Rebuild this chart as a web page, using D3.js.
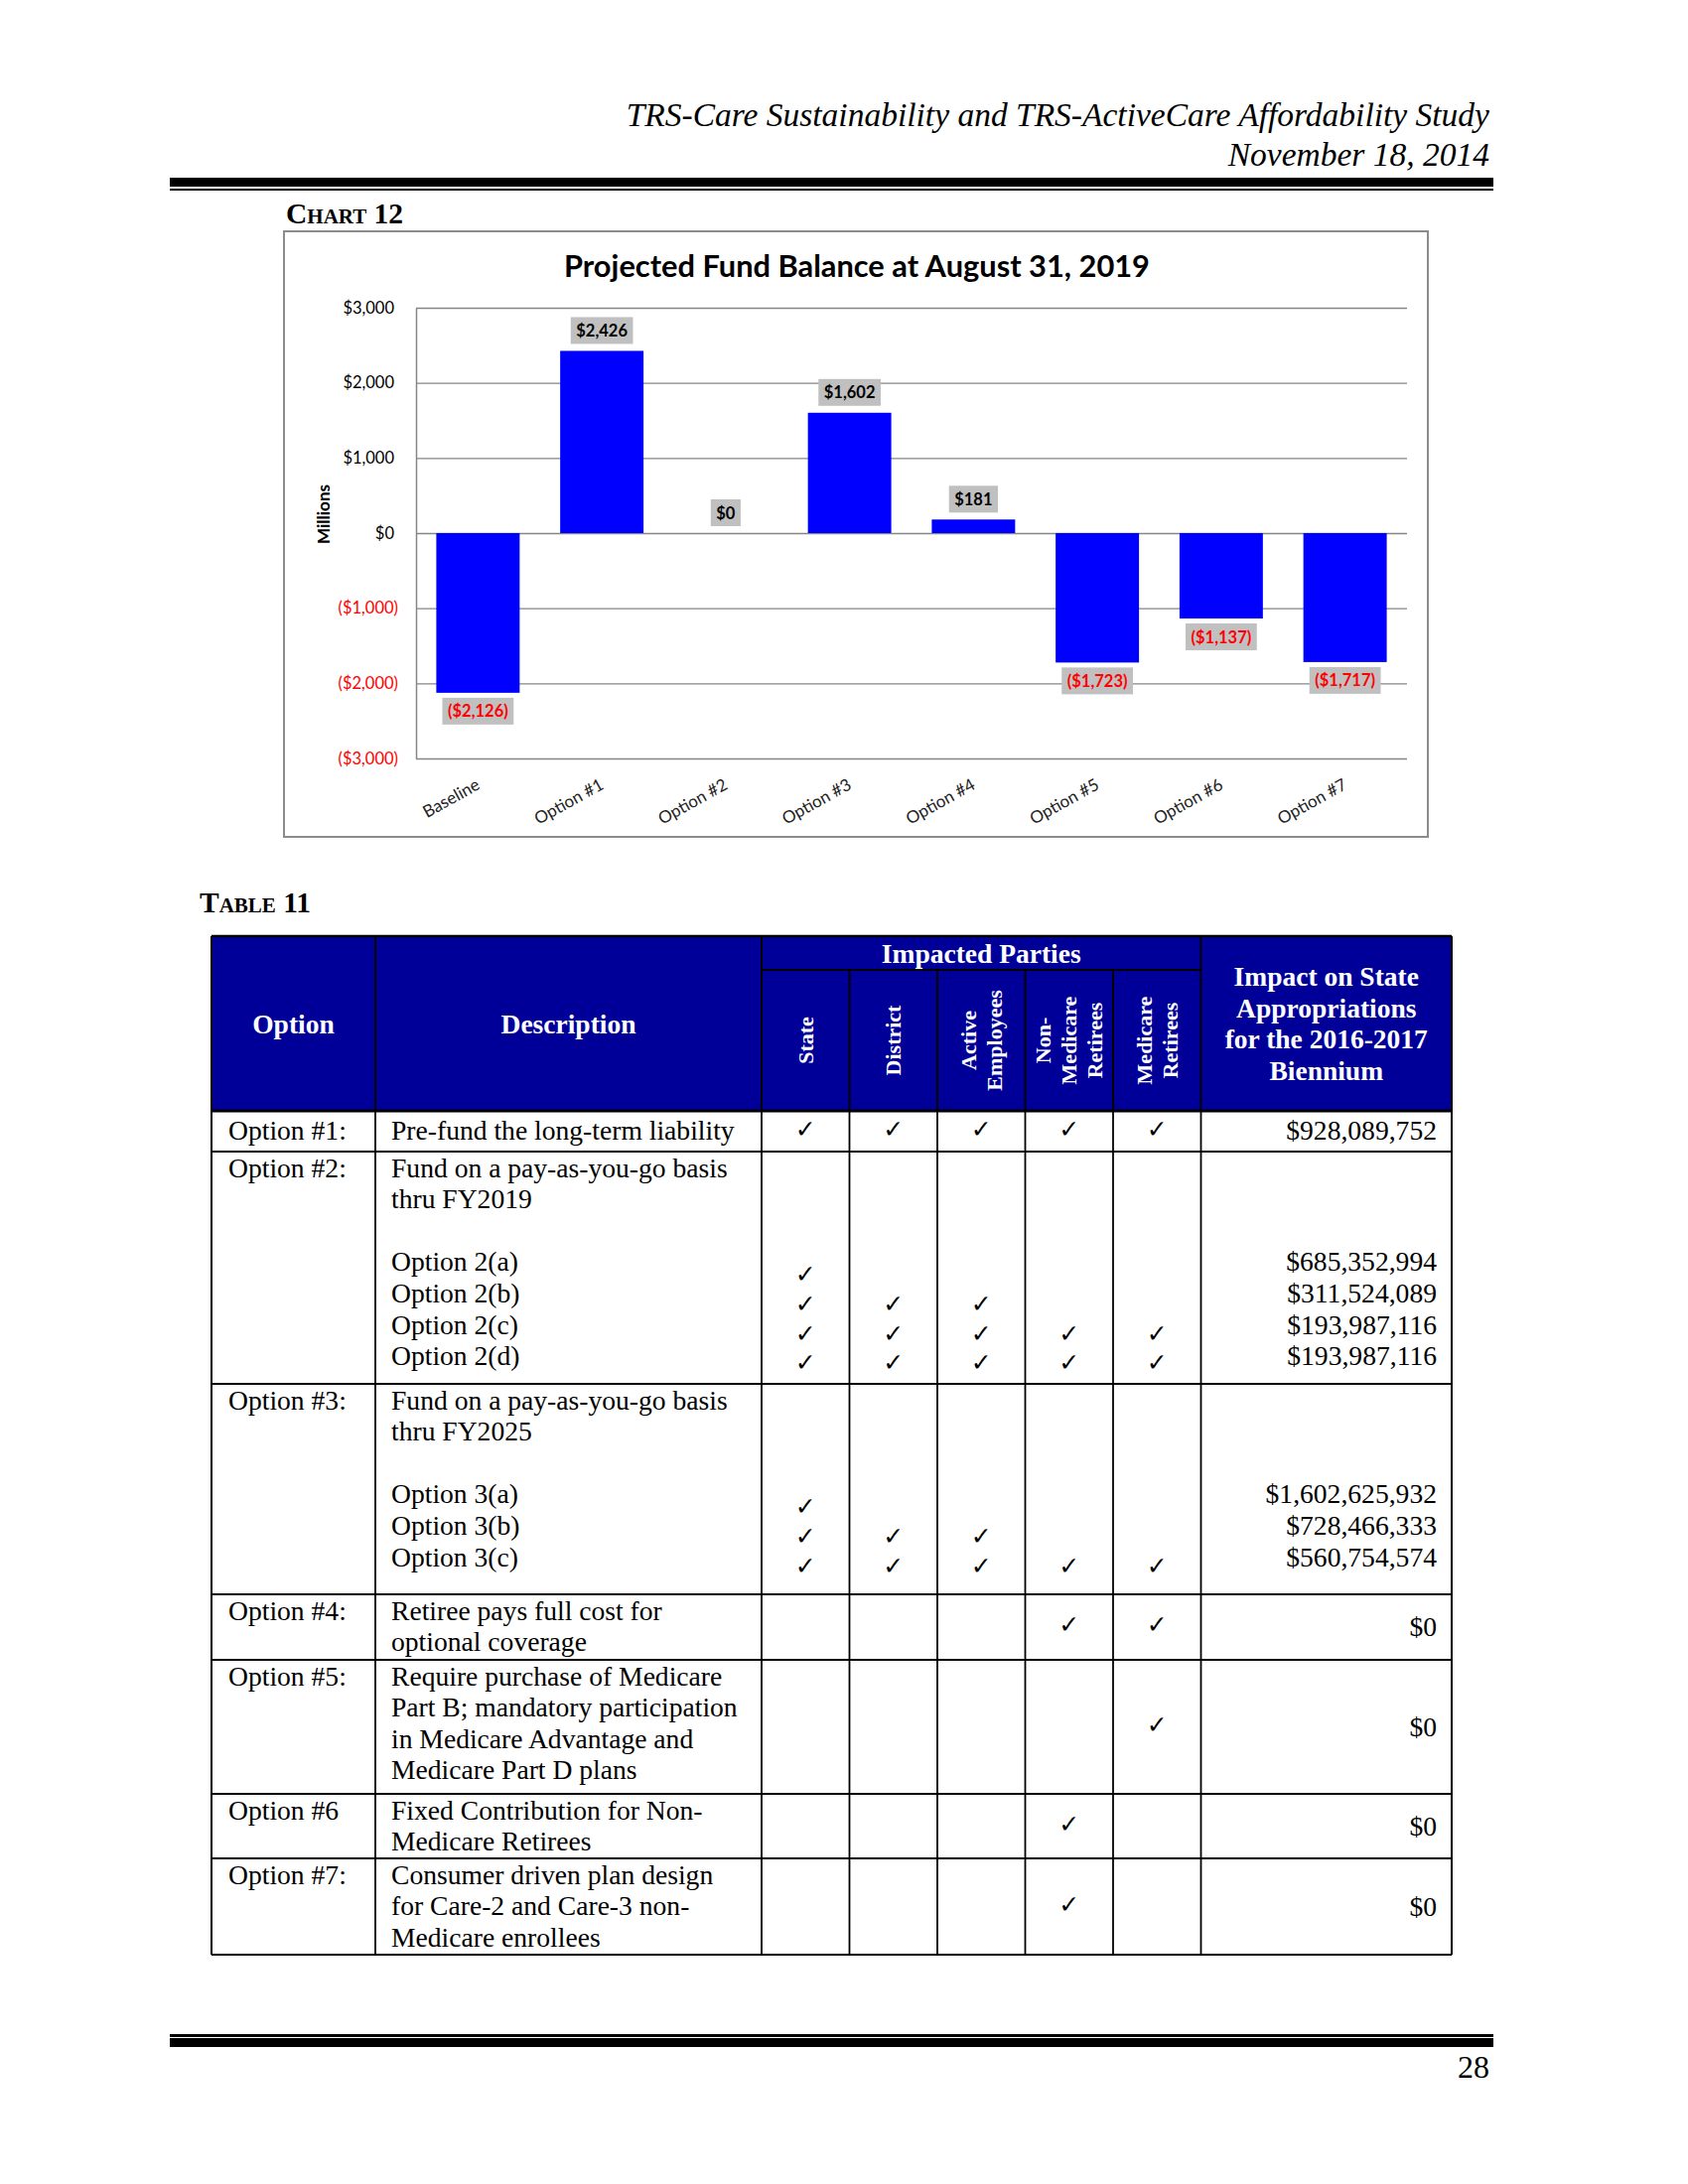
<!DOCTYPE html>
<html>
<head>
<meta charset="utf-8">
<script src="https://cdn.jsdelivr.net/npm/d3@7/dist/d3.min.js"></script>
<style>
  html, body { margin: 0; padding: 0; background: #fff; }
  svg { display: block; }
</style>
</head>
<body>
<div id="page"></div>
<script>
// ---------------- DATA ----------------
const docTitle = "TRS-Care Sustainability and TRS-ActiveCare Affordability Study";
const docDate = "November 18, 2014";
const pageNumber = "28";
const chartCaption = "Chart 12";
const tableCaption = "Table 11";

const chartTitle = "Projected Fund Balance at August 31, 2019";
const yAxisTitle = "Millions";
const categories = ["Baseline", "Option #1", "Option #2", "Option #3", "Option #4", "Option #5", "Option #6", "Option #7"];
const values = [-2126, 2426, 0, 1602, 181, -1723, -1137, -1717];
const yTicks = [3000, 2000, 1000, 0, -1000, -2000, -3000];

const headerOption = "Option";
const headerDescription = "Description";
const headerImpacted = "Impacted Parties";
const partyHeaders = [["State"], ["District"], ["Active", "Employees"], ["Non-", "Medicare", "Retirees"], ["Medicare", "Retirees"]];
const impactHeader = ["Impact on State", "Appropriations", "for the 2016-2017", "Biennium"];

const optionLabels = ["Option #1:", "Option #2:", "Option #3:", "Option #4:", "Option #5:", "Option #6", "Option #7:"];
const optionDescriptions = [
  ["Pre-fund the long-term liability"],
  ["Fund on a pay-as-you-go basis", "thru FY2019"],
  ["Fund on a pay-as-you-go basis", "thru FY2025"],
  ["Retiree pays full cost for", "optional coverage"],
  ["Require purchase of Medicare", "Part B; mandatory participation", "in Medicare Advantage and", "Medicare Part D plans"],
  ["Fixed Contribution for Non-", "Medicare Retirees"],
  ["Consumer driven plan design", "for Care-2 and Care-3 non-", "Medicare enrollees"]
];
const optionSubLabels = [
  [],
  ["Option 2(a)", "Option 2(b)", "Option 2(c)", "Option 2(d)"],
  ["Option 3(a)", "Option 3(b)", "Option 3(c)"],
  [], [], [], []
];
// checks: State, District, Active Employees, Non-Medicare Retirees, Medicare Retirees
const optionChecks = [
  [[1, 1, 1, 1, 1]],
  [[1, 0, 0, 0, 0], [1, 1, 1, 0, 0], [1, 1, 1, 1, 1], [1, 1, 1, 1, 1]],
  [[1, 0, 0, 0, 0], [1, 1, 1, 0, 0], [1, 1, 1, 1, 1]],
  [[0, 0, 0, 1, 1]],
  [[0, 0, 0, 0, 1]],
  [[0, 0, 0, 1, 0]],
  [[0, 0, 0, 1, 0]]
];
const optionAmounts = [
  ["$928,089,752"],
  ["$685,352,994", "$311,524,089", "$193,987,116", "$193,987,116"],
  ["$1,602,625,932", "$728,466,333", "$560,754,574"],
  ["$0"], ["$0"], ["$0"], ["$0"]
];

// ---------------- LAYOUT ----------------
const W = 1700, H = 2200;
const svg = d3.select("#page").append("svg").attr("width", W).attr("height", H);
svg.append("rect").attr("width", W).attr("height", H).attr("fill", "#fff");

const serif = "'Liberation Serif', 'Times New Roman', serif";
const sans = "Lato, 'Open Sans', sans-serif";

// Page header
svg.append("text").attr("x", 1500).attr("y", 127).attr("text-anchor", "end")
  .attr("font-family", serif).attr("font-style", "italic").attr("font-size", 33.5).text(docTitle);
svg.append("text").attr("x", 1500).attr("y", 167).attr("text-anchor", "end")
  .attr("font-family", serif).attr("font-style", "italic").attr("font-size", 33.5).text(docDate);
svg.append("rect").attr("x", 171).attr("y", 179).attr("width", 1333).attr("height", 9).attr("fill", "#000");
svg.append("rect").attr("x", 171).attr("y", 190).attr("width", 1333).attr("height", 2).attr("fill", "#000");

// Footer
svg.append("rect").attr("x", 171).attr("y", 2049).attr("width", 1333).attr("height", 3).attr("fill", "#000");
svg.append("rect").attr("x", 171).attr("y", 2053).attr("width", 1333).attr("height", 9).attr("fill", "#000");
svg.append("text").attr("x", 1500).attr("y", 2093).attr("text-anchor", "end")
  .attr("font-family", serif).attr("font-size", 32).text(pageNumber);

// Captions
svg.append("text").attr("x", 288).attr("y", 225).attr("font-family", serif).attr("font-weight", "bold")
  .attr("font-size", 29.5).style("font-variant", "small-caps").text(chartCaption);
svg.append("text").attr("x", 201).attr("y", 919).attr("font-family", serif).attr("font-weight", "bold")
  .attr("font-size", 29.5).style("font-variant", "small-caps").text(tableCaption);

// ---------------- CHART ----------------
svg.append("rect").attr("x", 286).attr("y", 233).attr("width", 1152).attr("height", 610)
  .attr("fill", "#fff").attr("stroke", "#8c8c8c").attr("stroke-width", 2);

svg.append("text").attr("x", 863).attr("y", 279).attr("text-anchor", "middle")
  .attr("font-family", sans).attr("font-weight", "bold").attr("font-size", 30.8).attr("fill", "#000")
  .text(chartTitle);

const plotL = 419, plotR = 1417, plotT = 310, plotB = 764;
const x = d3.scaleBand().domain(categories).range([plotL, plotR]).paddingInner(0.327).paddingOuter(0.1635);
const y = d3.scaleLinear().domain([-3000, 3000]).range([plotB, plotT]);
const fmtNum = d3.format(",");
const fmtMoney = v => v < 0 ? `($${fmtNum(-v)})` : `$${fmtNum(v)}`;

const yAxis = svg.append("g").attr("transform", `translate(${plotL},0)`)
  .call(d3.axisLeft(y).tickValues(yTicks).tickSize(-(plotR - plotL)).tickSizeOuter(0).tickPadding(18).tickFormat(fmtMoney));
yAxis.select(".domain").attr("stroke", "#868686").attr("stroke-width", 1.5);
yAxis.selectAll(".tick line").attr("stroke", "#868686").attr("stroke-width", 1.3);
yAxis.selectAll(".tick text")
  .attr("font-family", sans).attr("font-size", 16.5)
  .attr("fill", d => d < 0 ? "#ff0000" : "#000")
  .attr("dx", d => d < 0 ? 0 : -4);

svg.append("text").attr("transform", "translate(332,518) rotate(-90)").attr("text-anchor", "middle")
  .attr("font-family", sans).attr("font-weight", "bold").attr("font-size", 17).text(yAxisTitle);

const data = categories.map((c, i) => ({ c, v: values[i] }));
svg.append("g").selectAll("rect").data(data).join("rect")
  .attr("x", d => x(d.c)).attr("width", x.bandwidth())
  .attr("y", d => y(Math.max(0, d.v)))
  .attr("height", d => Math.abs(y(d.v) - y(0)))
  .attr("fill", "#0000ff");

// data labels
const lblG = svg.append("g");
data.forEach(d => {
  const cx = x(d.c) + x.bandwidth() / 2;
  const boxH = 27;
  const top = d.v < 0 ? y(d.v) + 5 : y(d.v) - 7 - boxH;
  const g = lblG.append("g");
  const box = g.append("rect").attr("fill", "#c0c0c0");
  const t = g.append("text").attr("x", cx).attr("y", top + 19.5).attr("text-anchor", "middle")
    .attr("font-family", sans).attr("font-weight", "bold").attr("font-size", 16.5)
    .attr("fill", d.v < 0 ? "#ff0000" : "#000").text(fmtMoney(d.v));
  const w = t.node().getComputedTextLength() + 11;
  box.attr("x", cx - w / 2).attr("y", top).attr("width", w).attr("height", boxH);
});

// x labels
svg.append("g").selectAll("text").data(categories).join("text")
  .attr("transform", c => `translate(${x(c) + x.bandwidth() / 2 + 3},794) rotate(-29)`)
  .attr("text-anchor", "end").attr("font-family", sans).attr("font-size", 17).attr("fill", "#222")
  .text(c => c);

// ---------------- TABLE ----------------
const colX = [213, 378, 767, 855.5, 944, 1032.5, 1121, 1209.5, 1462];
const tTop = 943, subTop = 977, hBot = 1119;
const rowTops = [1119, 1160, 1394, 1606, 1672, 1807, 1872, 1969];
const lineH = 31.6;
const bodySize = 27.6;
const navy = "#000099";

const tg = svg.append("g");
tg.append("rect").attr("x", colX[0]).attr("y", tTop).attr("width", colX[8] - colX[0]).attr("height", hBot - tTop).attr("fill", navy);

// header texts
const hdr = (txt, xx, yy, size) => tg.append("text").attr("x", xx).attr("y", yy).attr("text-anchor", "middle")
  .attr("font-family", serif).attr("font-weight", "bold").attr("font-size", size).attr("fill", "#fff").text(txt);
hdr(headerOption, (colX[0] + colX[1]) / 2, 1041, 27.5);
hdr(headerDescription, (colX[1] + colX[2]) / 2, 1041, 27.5);
hdr(headerImpacted, (colX[2] + colX[7]) / 2, 970, 27.5);
impactHeader.forEach((l, i) => hdr(l, (colX[7] + colX[8]) / 2, 993 + i * lineH, 27.5));
partyHeaders.forEach((lines, j) => {
  const cx = (colX[2 + j] + colX[3 + j]) / 2;
  const cy = (subTop + hBot) / 2;
  lines.forEach((l, i) => {
    const bx = cx + 7.5 + (i - (lines.length - 1) / 2) * 26;
    tg.append("text").attr("transform", `translate(${bx},${cy}) rotate(-90)`).attr("text-anchor", "middle")
      .attr("font-family", serif).attr("font-weight", "bold").attr("font-size", 22).attr("fill", "#fff").text(l);
  });
});

// body
const txt = (t, xx, yy, anchor) => tg.append("text").attr("x", xx).attr("y", yy).attr("text-anchor", anchor || "start")
  .attr("font-family", serif).attr("font-size", bodySize).attr("fill", "#000").text(t);
const check = (xx, yy) => tg.append("text").attr("x", xx).attr("y", yy).attr("text-anchor", "middle")
  .attr("font-family", "'DejaVu Sans', sans-serif").attr("font-size", 25).attr("font-weight", "normal").attr("fill", "#000").text("\u2713");

optionLabels.forEach((lab, r) => {
  const top = rowTops[r], bot = rowTops[r + 1];
  const base = top + (r === 0 ? 29 : 25.5);
  const mid = (top + bot) / 2;
  txt(lab, colX[0] + 17, base);
  optionDescriptions[r].forEach((l, i) => txt(l, colX[1] + 16, base + i * lineH));
  const subs = optionSubLabels[r];
  if (subs.length) {
    const subBase = base + (optionDescriptions[r].length + 1) * lineH;
    subs.forEach((s, i) => {
      txt(s, colX[1] + 16, subBase + i * lineH);
      txt(optionAmounts[r][i], colX[8] - 15, subBase + i * lineH, "end");
      optionChecks[r][i].forEach((c, j) => {
        if (c) check((colX[2 + j] + colX[3 + j]) / 2, subBase + 12 + i * 29.6);
      });
    });
  } else {
    const amtY = r === 0 ? base : mid + 9;
    txt(optionAmounts[r][0], colX[8] - 15, amtY, "end");
    optionChecks[r][0].forEach((c, j) => {
      if (c) check((colX[2 + j] + colX[3 + j]) / 2, mid + 6);
    });
  }
});

// grid lines
const ln = (x1, y1, x2, y2, w) => tg.append("line").attr("x1", x1).attr("y1", y1).attr("x2", x2).attr("y2", y2)
  .attr("stroke", "#000").attr("stroke-width", w);
// outer border
ln(colX[0], tTop, colX[8], tTop, 2.5);
ln(colX[0], tTop, colX[0], rowTops[7], 2);
ln(colX[8], tTop, colX[8], rowTops[7], 2);
// header internal
ln(colX[1], tTop, colX[1], hBot, 2);
ln(colX[2], tTop, colX[2], hBot, 2);
ln(colX[7], tTop, colX[7], hBot, 2);
ln(colX[2], subTop, colX[7], subTop, 2);
for (let j = 3; j < 7; j++) ln(colX[j], subTop, colX[j], hBot, 2);
// body verticals
for (let j = 1; j < 8; j++) ln(colX[j], hBot, colX[j], rowTops[7], 1.8);
// row lines
rowTops.forEach((yy, i) => ln(colX[0], yy, colX[8], yy, i === 0 ? 3 : 2.2));
</script>
</body>
</html>
